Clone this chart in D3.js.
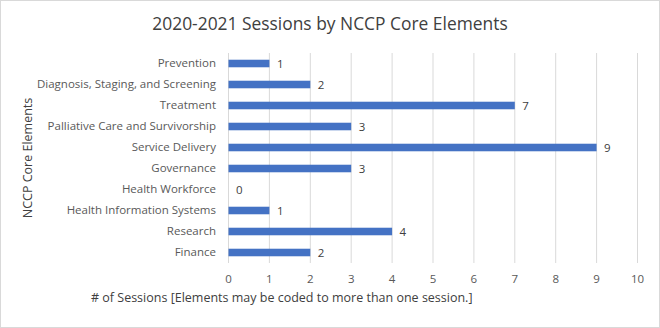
<!DOCTYPE html>
<html>
<head>
<meta charset="utf-8">
<script src="https://cdn.jsdelivr.net/npm/d3@7"></script>
<style>
  body { margin: 0; background: #fff; }
  svg { font-family: "Open Sans", "Noto Sans", sans-serif; }
</style>
</head>
<body>
<div id="chart"></div>
<script>
// chart data
var categories = [
  "Prevention",
  "Diagnosis, Staging, and Screening",
  "Treatment",
  "Palliative Care and Survivorship",
  "Service Delivery",
  "Governance",
  "Health Workforce",
  "Health Information Systems",
  "Research",
  "Finance"
];
var sessions = [1, 2, 7, 3, 9, 3, 0, 1, 4, 2];
var xTicks = [0, 1, 2, 3, 4, 5, 6, 7, 8, 9, 10];

var width = 660, height = 328;
var margin = { top: 53, right: 23, bottom: 65, left: 228 };
var innerW = width - margin.left - margin.right;
var innerH = height - margin.top - margin.bottom;

var svg = d3.select("#chart").append("svg")
  .attr("width", width)
  .attr("height", height);

// outer border
svg.append("rect")
  .attr("x", 0.5).attr("y", 0.5)
  .attr("width", width - 1).attr("height", height - 1)
  .attr("fill", "#fff").attr("stroke", "#d9d9d9");

svg.append("text")
  .attr("x", 330).attr("y", 30)
  .attr("text-anchor", "middle")
  .attr("font-size", 17.4)
  .attr("fill", "#404040")
  .text("2020-2021 Sessions by NCCP Core Elements");

var g = svg.append("g")
  .attr("transform", "translate(" + margin.left + "," + margin.top + ")");

var x = d3.scaleLinear().domain([0, 10]).range([0, innerW]);
var y = d3.scaleBand().domain(categories).range([0, innerH]).paddingInner(0.64).paddingOuter(0.32);

// gridlines
g.selectAll(".grid")
  .data(xTicks)
  .enter()
  .append("line")
  .attr("class", "grid")
  .attr("x1", (d) => x(d) + 0.5)
  .attr("x2", (d) => x(d) + 0.5)
  .attr("y1", 0)
  .attr("y2", innerH)
  .attr("stroke", "#d9d9d9");

// x axis labels
var xAxis = d3.axisBottom(x).tickValues(xTicks).tickSize(0).tickPadding(12);
g.append("g")
  .attr("transform", "translate(0," + innerH + ")")
  .call(xAxis)
  .call((a) => a.select(".domain").remove())
  .selectAll("text")
  .attr("font-size", 11.5)
  .attr("fill", "#595959")
  .attr("font-family", "\"Open Sans\", sans-serif");

// y axis labels
var yAxis = d3.axisLeft(y).tickSize(0).tickPadding(12);
g.append("g")
  .call(yAxis)
  .call((a) => a.select(".domain").remove())
  .selectAll("text")
  .attr("font-size", 11.5)
  .attr("fill", "#595959")
  .attr("font-family", "\"Open Sans\", sans-serif");

// bars
g.selectAll(".bar")
  .data(sessions)
  .enter()
  .append("rect")
  .attr("class", "bar")
  .attr("x", x(0) + 0.5)
  .attr("y", (d, i) => y(categories[i]))
  .attr("width", (d) => Math.max(0, x(d) - x(0)))
  .attr("height", y.bandwidth())
  .attr("fill", "#4472c4");

// value labels
g.selectAll(".val")
  .data(sessions)
  .enter()
  .append("text")
  .attr("class", "val")
  .attr("x", (d) => x(d) + 8)
  .attr("y", (d, i) => y(categories[i]) + y.bandwidth() / 2)
  .attr("dy", "0.36em")
  .attr("font-size", 11.5)
  .attr("fill", "#404040")
  .text((d) => d);

// axis titles
svg.append("text")
  .attr("x", 91)
  .attr("y", 302)
  .attr("font-size", 12.5)
  .attr("fill", "#404040")
  .text("# of Sessions [Elements may be coded to more than one session.]");

svg.append("text")
  .attr("transform", "translate(32," + (margin.top + innerH / 2) + ") rotate(-90)")
  .attr("text-anchor", "middle")
  .attr("font-size", 12.5)
  .attr("fill", "#404040")
  .text("NCCP Core Elements");
</script>
</body>
</html>
